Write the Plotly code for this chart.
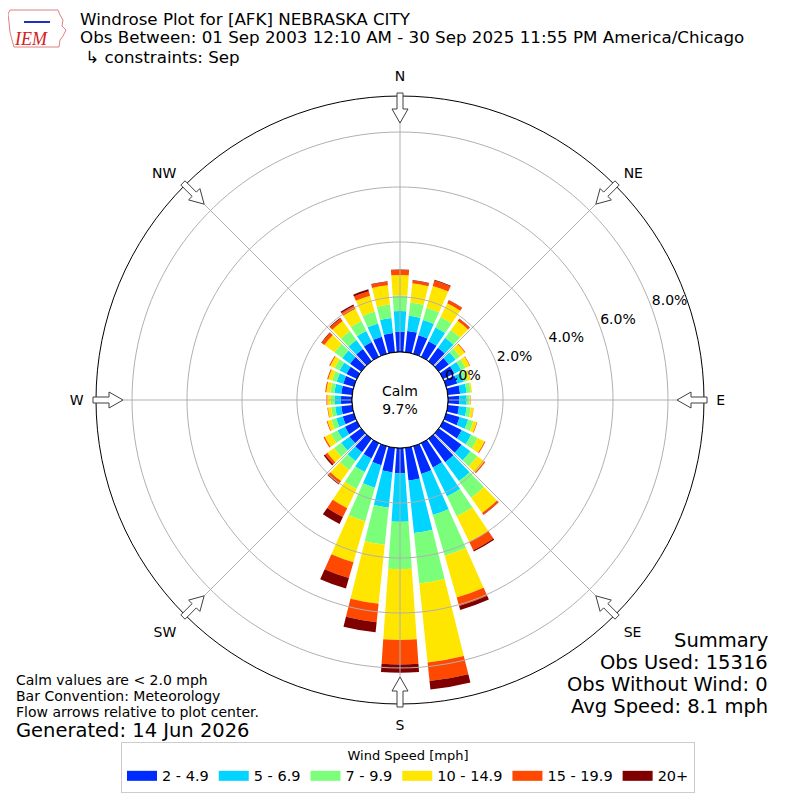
import math
import plotly.graph_objects as go

# wind directions (deg, meteorological) and speed bins
directions = list(range(0, 360, 10))
speed_bins = ["2 - 4.9", "5 - 6.9", "7 - 9.9", "10 - 14.9", "15 - 19.9", "20+"]
bin_colors = ["#002bff", "#00d4ff", "#7bff7b", "#ffe600", "#ff4800", "#800000"]

# percent of observations per direction, one list per speed bin
pct_2_5 = [0.74, 0.78, 0.70, 0.63, 0.60, 0.45, 0.45, 0.42, 0.45, 0.41, 0.41, 0.51,
           0.75, 1.02, 1.05, 0.98, 1.05, 1.20, 0.92, 0.90, 0.72, 0.62, 0.60, 0.52,
           0.48, 0.42, 0.40, 0.40, 0.40, 0.40, 0.42, 0.50, 0.55, 0.60, 0.65, 0.70]
pct_5_7 = [0.75, 0.55, 0.58, 0.56, 0.45, 0.30, 0.28, 0.25, 0.24, 0.27, 0.28, 0.32,
           0.38, 0.40, 0.85, 1.18, 1.55, 1.92, 1.76, 1.29, 0.85, 0.55, 0.40, 0.38,
           0.30, 0.25, 0.22, 0.22, 0.25, 0.25, 0.28, 0.35, 0.40, 0.45, 0.50, 0.55]
pct_7_10 = [0.56, 0.49, 0.46, 0.42, 0.35, 0.20, 0.18, 0.13, 0.15, 0.10, 0.15, 0.20,
            0.27, 0.31, 0.75, 0.80, 1.55, 1.84, 1.73, 1.36, 1.27, 0.68, 0.40, 0.32,
            0.27, 0.18, 0.15, 0.15, 0.15, 0.17, 0.20, 0.35, 0.40, 0.40, 0.45, 0.50]
pct_10_15 = [0.75, 0.70, 0.83, 0.56, 0.42, 0.22, 0.17, 0.12, 0.05, 0.04, 0.10, 0.13,
             0.28, 0.31, 0.68, 1.04, 1.58, 2.89, 2.57, 2.15, 1.55, 0.78, 0.50, 0.30,
             0.25, 0.15, 0.12, 0.13, 0.15, 0.15, 0.18, 0.45, 0.45, 0.50, 0.60, 0.70]
pct_15_20 = [0.18, 0.10, 0.20, 0.12, 0.09, 0.03, 0.02, 0.01, 0.00, 0.01, 0.01, 0.02,
             0.03, 0.05, 0.08, 0.33, 0.32, 0.68, 0.89, 0.68, 0.60, 0.36, 0.12, 0.10,
             0.05, 0.03, 0.02, 0.03, 0.04, 0.04, 0.04, 0.13, 0.12, 0.12, 0.17, 0.13]
pct_20_up = [0.02, 0.02, 0.03, 0.01, 0.01, 0.00, 0.00, 0.00, 0.00, 0.00, 0.00, 0.00,
             0.00, 0.00, 0.01, 0.05, 0.15, 0.31, 0.30, 0.37, 0.40, 0.28, 0.03, 0.06,
             0.00, 0.00, 0.00, 0.00, 0.00, 0.00, 0.00, 0.02, 0.03, 0.05, 0.07, 0.02]

calm_pct = 9.7
obs_used = 15316
obs_without_wind = 0
avg_speed = 8.1

compass_vals = [0, 45, 90, 135, 180, 225, 270, 315]
compass_text = ["N", "NE", "E", "SE", "S", "SW", "W", "NW"]
radial_ticks = [0, 2, 4, 6, 8]
radial_label_dir = 70  # compass direction the % labels run along
r_max = 9.31

FONT = "DejaVu Sans"
GRID = "#b0b0b0"
SHIFT = 8  # the page puts the plot 8px in from the window corner


def paper(x, y):
    # window pixel -> paper coords
    return (x - SHIFT) / 800, 1 - (y - SHIFT) / 800


fig = go.Figure()
series = [pct_2_5, pct_5_7, pct_7_10, pct_10_15, pct_15_20, pct_20_up]
for name, vals, col in zip(speed_bins, series, bin_colors):
    fig.add_trace(go.Barpolar(
        r=vals, theta=directions, width=8, name=name, legendgroup=name,
        showlegend=False, marker=dict(color=col, line=dict(width=0)),
    ))

# grid drawn over the bars, like the original
ring_theta = list(range(0, 361, 2))
grid_r, grid_t = [], []
for v in radial_ticks[1:]:
    grid_r += [v] * len(ring_theta) + [None]
    grid_t += ring_theta + [None]
for d in compass_vals:
    grid_r += [0, r_max, None]
    grid_t += [d, d, None]
fig.add_trace(go.Scatterpolar(
    r=grid_r, theta=grid_t, mode="lines", line=dict(color=GRID, width=1),
    showlegend=False, hoverinfo="skip",
))

# black ring round the calm area
fig.add_trace(go.Scatterpolar(
    r=[0] * len(ring_theta), theta=ring_theta, mode="lines",
    line=dict(color="black", width=1), showlegend=False, hoverinfo="skip",
    cliponaxis=False,
))

# radial % labels, left aligned just above each ring
fig.add_trace(go.Scatterpolar(
    r=radial_ticks, theta=[radial_label_dir] * len(radial_ticks), mode="text",
    text=["%.1f%%" % v for v in radial_ticks], textposition="top right",
    textfont=dict(size=14, color="black"), showlegend=False, hoverinfo="skip",
    cliponaxis=False,
))

# legend swatches
for name, col in zip(speed_bins, bin_colors):
    fig.add_trace(go.Scatterpolar(
        r=[None], theta=[None], mode="lines", name=name, legendgroup=name,
        line=dict(color=col, width=10),
    ))

fig.update_layout(
    width=800, height=800,
    margin=dict(l=0, r=0, t=0, b=0),
    paper_bgcolor="white",
    font=dict(family=FONT, size=13, color="black"),
    polar=dict(
        domain=dict(x=[paper(96, 0)[0], paper(704, 0)[0]],
                    y=[paper(0, 704)[1], paper(0, 96)[1]]),
        hole=0.158,
        bgcolor="white",
        barmode="stack",
        radialaxis=dict(
            range=[0, r_max], tickvals=radial_ticks, showticklabels=False,
            showline=False, ticks="", showgrid=False,
        ),
        angularaxis=dict(
            rotation=90, direction="clockwise",
            tickvals=compass_vals, ticktext=compass_text,
            ticks="outside", ticklen=9, tickcolor="rgba(0,0,0,0)",
            showline=True, linecolor="black", linewidth=1,
            showgrid=False, tickfont=dict(size=14),
        ),
    ),
    legend=dict(
        orientation="h", x=0.5, xanchor="center", y=paper(0, 742)[1], yanchor="top",
        title=dict(text="Wind Speed [mph]", side="top center", font=dict(size=13)),
        font=dict(size=14.5), bordercolor="#cccccc", borderwidth=1,
        bgcolor="white", itemwidth=30, traceorder="normal",
    ),
)

# flow arrows at the compass points, pointing to the centre
cx, cy = 400, 400
shapes = []
for d in compass_vals:
    a = math.radians(d)
    ux, uy = math.sin(a), -math.cos(a)
    px, py = math.cos(a), math.sin(a)
    outline = [(307, -3), (291, -3), (291, -8), (277, 0), (291, 8), (291, 3), (307, 3)]
    pts = [paper(cx + al * ux + off * px, cy + al * uy + off * py) for al, off in outline]
    path = "M " + " L ".join("%.5f %.5f" % p for p in pts) + " Z"
    shapes.append(dict(type="path", path=path, xref="paper", yref="paper",
                       fillcolor="white", line=dict(color="#404040", width=1)))

# rough IEM logo outline
logo = [(10, 10), (58, 10), (60, 15), (63, 20), (62, 26), (66, 30), (63, 36),
        (60, 40), (59, 47), (14, 47), (12, 40), (10, 32), (9, 22), (8, 14)]
logo_path = "M " + " L ".join("%.5f %.5f" % paper(x, y) for x, y in logo) + " Z"
shapes.append(dict(type="path", path=logo_path, xref="paper", yref="paper",
                   line=dict(color="#e08080", width=1)))
x0, y0 = paper(24, 22)
x1, _ = paper(50, 22)
shapes.append(dict(type="line", xref="paper", yref="paper", x0=x0, x1=x1, y0=y0, y1=y0,
                   line=dict(color="#2030c0", width=2)))
fig.update_layout(shapes=shapes)


def note(x, y, text, size, anchor="left", **kw):
    ax, ay = paper(x, y)
    font = dict(size=size)
    font.update(kw)
    return dict(x=ax, y=ay, text=text, xref="paper", yref="paper", showarrow=False,
                xanchor=anchor, yanchor="middle", font=font)


annos = [
    note(78, 18.5, "Windrose Plot for [AFK] NEBRASKA CITY", 16.7),
    note(78, 37.5, "Obs Between: 01 Sep 2003 12:10 AM - 30 Sep 2025 11:55 PM America/Chicago", 16.7),
    note(78, 57, " ↳ constraints: Sep", 16.7),
    note(31, 39, "<i>IEM</i>", 18, anchor="center", family="Liberation Serif", color="#d42020"),
    note(400, 400, "Calm<br>%.1f%%" % calm_pct, 14, anchor="center"),
    note(14, 680, "Calm values are < 2.0 mph", 14),
    note(14, 696, "Bar Convention: Meteorology", 14),
    note(14, 712, "Flow arrows relative to plot center.", 14),
    note(14, 730, "Generated: 14 Jun 2026", 19.5),
    note(770, 640, "Summary", 19.5, anchor="right"),
    note(770, 662, "Obs Used: %d" % obs_used, 19.5, anchor="right"),
    note(770, 684, "Obs Without Wind: %d" % obs_without_wind, 19.5, anchor="right"),
    note(770, 706, "Avg Speed: %.1f mph" % avg_speed, 19.5, anchor="right"),
]
fig.update_layout(annotations=annos)

fig.write_html("out.html")
